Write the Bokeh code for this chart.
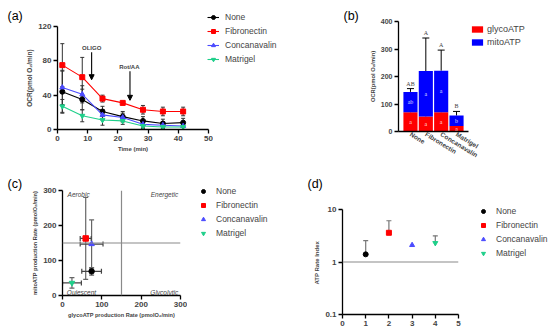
from bokeh.plotting import figure
from bokeh.layouts import row, column
from bokeh.models import (ColumnDataSource, Whisker, TeeHead, Legend, LegendItem, Label,
                          Arrow, NormalHead, Span, FixedTicker, FactorRange, NumeralTickFormatter)
from bokeh.embed import file_html
from bokeh.resources import INLINE

FONT = "Liberation Sans"
NAN = float("nan")

# ---------------- data ----------------
groups = ["None", "Fibronectin", "Concanavalin", "Matrigel"]
colors = ["#000000", "#FF0000", "#4B4BFF", "#1FCF8A"]
markers = ["circle", "square", "triangle", "inverted_triangle"]

# (a) OCR time course
time_min = [1.6, 8.2, 14.9, 21.6, 28.3, 34.9, 41.6]
ocr_none = [44, 35, 21, 15, 10, 7, 8]
ocr_none_err = [24, 12, 6, 6, 5, 5, 5]
ocr_fib = [75, 61, 36, 31, 23, 21, 21]
ocr_fib_err = [25, 23, 4, 2, 5, 5, 5]
ocr_con = [49, 41, 17, 14, 6, 5, 4]
ocr_con_err = [20, 10, 6, 5, 4, 4, 4]
ocr_mat = [27, 16, 11, 10, 4, 3, 3]
ocr_mat_err = [8, 7, 6, 4, 3, 3, 3]
a_ticks_x = [0, 10, 20, 30, 40, 50]
a_ticks_y = [0, 40, 80, 120]

# (b) ATP production (stacked)
glyco_atp = [70, 55, 70, 20]
glyco_atp_err = [28, 13, 30, NAN]
mito_atp = [74, 165, 151, 38]
total_atp_err = [12, 120, 75, 15]
letters_top = ["AB", "A", "A", "B"]
letters_mito = ["ab", "a", "a", "b"]
letters_glyco = ["a", "a", "a", "a"]
b_ticks_y = [0, 100, 200, 300, 400]
bar_colors = ["#FF0000", "#0000FF"]
bar_names = ["glycoATP", "mitoATP"]

# (c) energy map
glyco_rate = [74, 59, 74, 24]
glyco_rate_err = [25, 14, 29, 24]
mito_rate = [69, 163, 147, 36]
mito_rate_err = [11, 117, 69, 15]
c_ticks = [0, 100, 200, 300]

# (d) ATP rate index
group_pos = [1, 2, 3, 4]
ari = [1.4, 3.6, 2.1, 2.3]
ari_upper = [2.55, 6.1, NAN, 3.15]
d_ticks_x = [0, 1, 2, 3, 4, 5]
d_ticks_y = [0.1, 1, 10]


def base_fig(w, h, left, right, top, bottom, **kw):
    p = figure(width=w, height=h, min_border_left=left, min_border_right=right,
               min_border_top=top, min_border_bottom=bottom,
               output_backend="svg", toolbar_location=None, **kw)
    p.xgrid.visible = False
    p.ygrid.visible = False
    p.outline_line_color = None
    for ax in p.axis:
        ax.axis_line_width = 1.3
        ax.axis_line_color = "black"
        ax.major_tick_in = 0
        ax.major_tick_out = 4
        ax.major_tick_line_width = 1.3
        ax.minor_tick_line_color = None
        ax.major_label_text_font = FONT
        ax.major_label_text_font_style = "bold"
        ax.major_label_text_font_size = "8px"
        ax.major_label_standoff = 2
        ax.axis_label_text_font = FONT
        ax.axis_label_text_font_style = "bold"
        ax.axis_label_text_font_size = "6px"
        ax.axis_label_standoff = 2
    return p


def blank_fig(w, h, left=0, top=0):
    f = figure(width=w, height=h, x_axis_type=None, y_axis_type=None,
               min_border_left=left, min_border_top=top, min_border_right=0, min_border_bottom=0,
               x_range=(0, w - left), y_range=(0, h - top),
               output_backend="svg", toolbar_location=None)
    f.xgrid.visible = False
    f.ygrid.visible = False
    f.outline_line_color = None
    f.background_fill_alpha = 0
    f.border_fill_alpha = 0
    return f


def boxed(f, **kw):
    # wrap each figure on its own so that frames are not aligned across siblings
    return column(f, **kw)


def strip_label(w, h, text, x, y_top):
    f = blank_fig(w, h)
    f.add_layout(Label(x=x, y=h - y_top, text=text,
                       text_font=FONT, text_font_size="12.5px", text_baseline="middle",
                       text_color="black"))
    return f


def make_legend(items, gw, gh, standoff, spacing, size="8.5px"):
    return Legend(items=items, location="top_left", glyph_width=gw, glyph_height=gh,
                  label_height=10, spacing=spacing, padding=0, margin=0,
                  label_standoff=standoff, label_text_font=FONT, label_text_font_size=size,
                  border_line_color=None, background_fill_alpha=0)


def marker_legend_fig(w, h, left, top, gw, standoff, with_line):
    f = blank_fig(w, h, left, top)
    items = []
    for name, col, mk in zip(groups, colors, markers):
        rs = []
        if with_line:
            rs.append(f.line(x=[NAN], y=[NAN], line_color=col, line_width=1.1))
        rs.append(f.scatter(x=[NAN], y=[NAN], marker=mk, fill_color=col, line_color=col))
        items.append(LegendItem(label=name, renderers=rs))
    f.add_layout(make_legend(items, gw, 10, standoff, 4))
    return f


# ---------------- (a) ----------------
strip_a = strip_label(23, 164, "(a)", 7, 15)
pa = base_fig(190, 164, 30, 5, 26, 35, x_range=(0, 50), y_range=(0, 120))
pa.xaxis.ticker = FixedTicker(ticks=a_ticks_x)
pa.yaxis.ticker = FixedTicker(ticks=a_ticks_y)
pa.xaxis.axis_label = "Time (min)"
pa.yaxis.axis_label = "OCR(pmol O\u2082/min)"
pa.yaxis.axis_label_text_font_size = "6.5px"

series_a = [(ocr_none, ocr_none_err), (ocr_fib, ocr_fib_err), (ocr_con, ocr_con_err), (ocr_mat, ocr_mat_err)]
for name, (vals, errs), col, mk in zip(groups, series_a, colors, markers):
    src = ColumnDataSource(dict(x=time_min, y=vals,
                                lo=[v - e for v, e in zip(vals, errs)],
                                hi=[v + e for v, e in zip(vals, errs)]))
    pa.add_layout(Whisker(source=src, base="x", lower="lo", upper="hi", line_color="#333333",
                          line_width=1,
                          upper_head=TeeHead(size=4, line_color="#333333", line_width=1),
                          lower_head=TeeHead(size=4, line_color="#333333", line_width=1)))
    pa.line("x", "y", source=src, line_color=col, line_width=1.1)
    pa.scatter("x", "y", source=src, marker=mk, size=5, fill_color=col, line_color=col)

pa.add_layout(Arrow(x_start=11.3, y_start=90, x_end=11.3, y_end=58, line_width=1.1,
                    end=NormalHead(size=5, fill_color="black", line_color="black")))
pa.add_layout(Arrow(x_start=24.0, y_start=68, x_end=24.0, y_end=34, line_width=1.1,
                    end=NormalHead(size=5, fill_color="black", line_color="black")))
pa.add_layout(Label(x=11.3, y=95, text="OLIGO", text_align="center", text_baseline="middle",
                    text_font=FONT, text_font_style="bold", text_font_size="6px"))
pa.add_layout(Label(x=23.8, y=73, text="Rot/AA", text_align="center", text_baseline="middle",
                    text_font=FONT, text_font_style="bold", text_font_size="6px"))

leg_a = marker_legend_fig(136, 164, 0, 12, 12, 6, True)

# ---------------- (b) ----------------
strip_b = strip_label(23, 164, "(b)", 0, 15)
pb = base_fig(116, 164, 32, 14, 21, 30,
              x_range=FactorRange(factors=groups, range_padding=0.28, range_padding_units="absolute"),
              y_range=(0, 400))
pb.yaxis.ticker = FixedTicker(ticks=b_ticks_y)
pb.yaxis.axis_label = "OCR(pmol O\u2082/min)"
pb.yaxis.axis_label_text_font_size = "5.8px"
pb.yaxis.major_label_text_font_size = "7px"
pb.xaxis.major_label_orientation = -0.55
pb.xaxis.major_label_text_font_size = "6.5px"
pb.xaxis.major_tick_line_color = None
pb.xaxis.major_tick_out = 0

total_atp = [g + m for g, m in zip(glyco_atp, mito_atp)]
bsrc = ColumnDataSource(dict(
    cat=groups, glyco=glyco_atp, total=total_atp,
    glyco_hi=[g + e for g, e in zip(glyco_atp, glyco_atp_err)],
    total_hi=[t + e for t, e in zip(total_atp, total_atp_err)],
    glyco_mid=[g / 2 for g in glyco_atp],
    mito_mid=[g + m / 2 for g, m in zip(glyco_atp, mito_atp)],
    lt=letters_top, lm=letters_mito, lg=letters_glyco))
pb.vbar(x="cat", top="glyco", bottom=0, width=0.92, source=bsrc,
        fill_color=bar_colors[0], line_color=None)
pb.vbar(x="cat", top="total", bottom="glyco", width=0.92, source=bsrc,
        fill_color=bar_colors[1], line_color=None)
pb.add_layout(Whisker(source=bsrc, base="cat", lower="total", upper="total_hi", line_color="black",
                      line_width=1, lower_head=None,
                      upper_head=TeeHead(size=7, line_color="black", line_width=1)))
pb.add_layout(Whisker(source=bsrc, base="cat", lower="glyco", upper="glyco_hi", line_color="black",
                      line_width=1, lower_head=None,
                      upper_head=TeeHead(size=7, line_color="black", line_width=1)))
pb.text(x="cat", y="total_hi", text="lt", source=bsrc, y_offset=-2, text_align="center",
        text_baseline="bottom", text_font_size="6px", text_color="#444444", text_font=FONT)
pb.text(x="cat", y="mito_mid", text="lm", source=bsrc, text_align="center",
        text_baseline="middle", text_font_size="6px", text_color="#DDDDFF", text_font=FONT)
pb.text(x="cat", y="glyco_mid", text="lg", source=bsrc, text_align="center",
        text_baseline="middle", text_font_size="6px", text_color="#FFDDDD", text_font=FONT)

leg_b = blank_fig(80, 164, 0, 24)
items_b = []
for name, col in zip(bar_names, bar_colors):
    r = leg_b.vbar(x=[NAN], top=[NAN], width=0.1, fill_color=col, line_color=None)
    items_b.append(LegendItem(label=name, renderers=[r]))
leg_b.add_layout(make_legend(items_b, 14, 8, 3, 3, size="9px"))

# ---------------- (c) ----------------
strip_c = strip_label(24, 170, "(c)", 7, 19)
pc = base_fig(163, 170, 38, 7, 26, 39, x_range=(0, 300), y_range=(0, 300))
pc.xaxis.ticker = FixedTicker(ticks=c_ticks)
pc.yaxis.ticker = FixedTicker(ticks=c_ticks)
pc.xaxis.axis_label = "glycoATP production Rate (pmolO\u2082/min)"
pc.yaxis.axis_label = "mitoATP production Rate (pmolO\u2082/min)"
pc.xaxis.axis_label_text_font_size = "5.6px"
pc.yaxis.axis_label_text_font_size = "5.6px"
pc.add_layout(Span(location=150, dimension="height", line_color="#8A8A8A", line_width=1.2))
pc.add_layout(Span(location=150, dimension="width", line_color="#8A8A8A", line_width=1.2))

csrc = ColumnDataSource(dict(
    gx=glyco_rate, my=mito_rate,
    xlo=[g - e for g, e in zip(glyco_rate, glyco_rate_err)],
    xhi=[g + e for g, e in zip(glyco_rate, glyco_rate_err)],
    ylo=[m - e for m, e in zip(mito_rate, mito_rate_err)],
    yhi=[m + e for m, e in zip(mito_rate, mito_rate_err)]))
ecol = "#666666"
pc.add_layout(Whisker(source=csrc, base="gx", lower="ylo", upper="yhi", dimension="height",
                      line_color=ecol, line_width=1.2,
                      upper_head=TeeHead(size=5, line_color=ecol, line_width=1.2),
                      lower_head=TeeHead(size=5, line_color=ecol, line_width=1.2)))
pc.add_layout(Whisker(source=csrc, base="my", lower="xlo", upper="xhi", dimension="width",
                      line_color="#444444", line_width=1.2,
                      upper_head=TeeHead(size=5, line_color="#444444", line_width=1.2),
                      lower_head=TeeHead(size=5, line_color="#444444", line_width=1.2)))
for i, (name, col, mk) in enumerate(zip(groups, colors, markers)):
    pc.scatter([glyco_rate[i]], [mito_rate[i]], marker=mk, size=5.5, fill_color=col, line_color=col)
for txt, x, y, al in [("Aerobic", 13, 290, "left"), ("Energetic", 294, 290, "right"),
                      ("Quiescent", 11, 8, "left"), ("Glycolytic", 294, 8, "right")]:
    pc.add_layout(Label(x=x, y=y, text=txt, text_align=al, text_baseline="middle",
                        text_font=FONT, text_font_style="italic", text_font_size="6.5px",
                        text_color="#444444"))
leg_c = marker_legend_fig(111, 170, 11, 22, 10, 8, False)

# ---------------- (d) ----------------
strip_d = strip_label(165, 30, "(d)", 9, 19)
pd = base_fig(165, 140, 44, 5, 15, 20, x_range=(0, 5), y_range=(0.1, 10), y_axis_type="log")
pd.xaxis.ticker = FixedTicker(ticks=d_ticks_x)
pd.yaxis.ticker = FixedTicker(ticks=d_ticks_y)
pd.yaxis.formatter = NumeralTickFormatter(format="0.[0]")
pd.yaxis.axis_label = "ATP Rate  Index"
pd.add_layout(Span(location=1, dimension="width", line_color="#8A8A8A", line_width=1.2))
dsrc = ColumnDataSource(dict(x=group_pos, y=ari, hi=ari_upper))
pd.add_layout(Whisker(source=dsrc, base="x", lower="y", upper="hi", line_color="#777777",
                      line_width=1.2, lower_head=None,
                      upper_head=TeeHead(size=5, line_color="#777777", line_width=1.2)))
for i, (name, col, mk) in enumerate(zip(groups, colors, markers)):
    pd.scatter([group_pos[i]], [ari[i]], marker=mk, size=5, fill_color=col, line_color=col)
leg_d = marker_legend_fig(87, 170, 15, 42, 10, 8, False)

top_row = row(boxed(strip_a), boxed(pa), boxed(leg_a, margin=(0, 0, 0, -6)),
              boxed(strip_b), boxed(pb), boxed(leg_b, margin=(0, 0, 0, -12)))
bottom_row = row(boxed(strip_c), boxed(pc), boxed(leg_c),
                 column(boxed(strip_d), boxed(pd)), boxed(leg_d))
p = column(top_row, bottom_row)
open("out.html", "w").write(file_html(p, INLINE))
